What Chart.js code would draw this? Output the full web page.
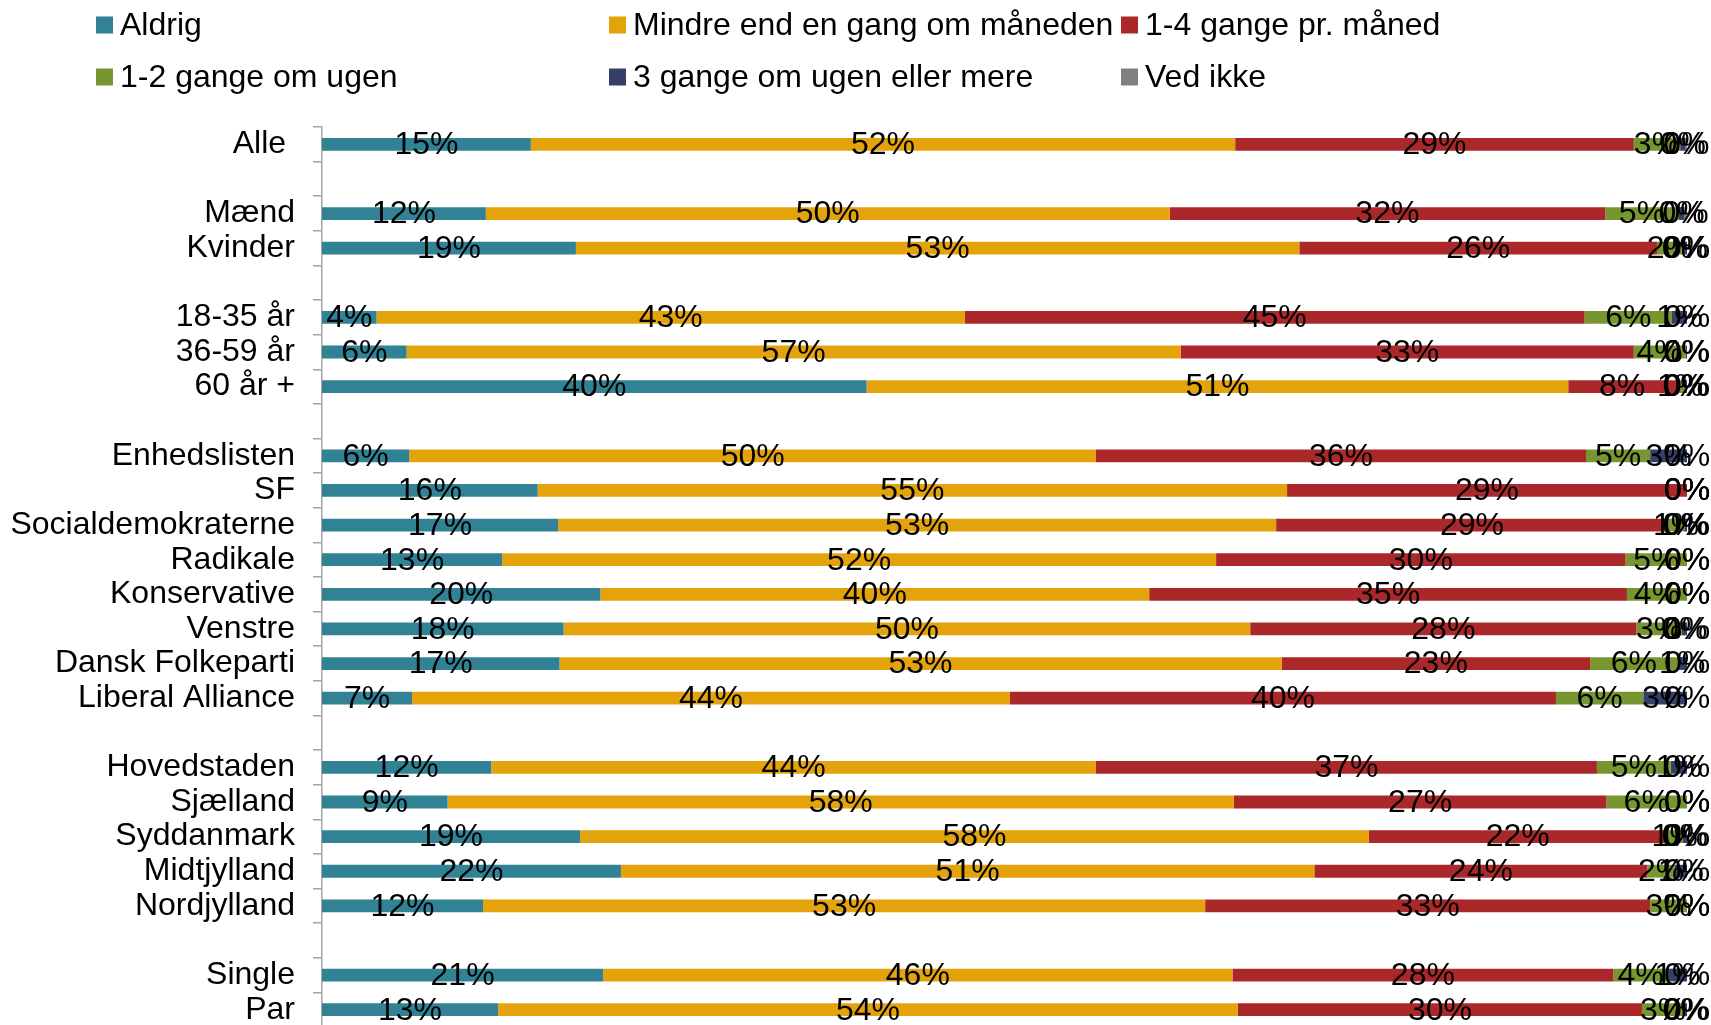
<!DOCTYPE html>
<html><head><meta charset="utf-8">
<script src="https://cdn.jsdelivr.net/npm/chart.js@4.4.1/dist/chart.umd.min.js"></script>
<style>
html,body{margin:0;padding:0;background:#fff;overflow:hidden}
#wrap{position:relative;width:1711px;height:1027px}
</style>
</head><body>
<div id="wrap"><canvas id="c"></canvas></div>
<script>
const categories = ['Alle ', '', 'Mænd', 'Kvinder', '', '18-35 år', '36-59 år', '60 år +', '',
  'Enhedslisten', 'SF', 'Socialdemokraterne', 'Radikale', 'Konservative', 'Venstre', 'Dansk Folkeparti', 'Liberal Alliance', '',
  'Hovedstaden', 'Sjælland', 'Syddanmark', 'Midtjylland', 'Nordjylland', '', 'Single', 'Par'];

const seriesNames = ['Aldrig', 'Mindre end en gang om måneden', '1-4 gange pr. måned',
  '1-2 gange om ugen', '3 gange om ugen eller mere', 'Ved ikke'];

const aldrig  = [15.3, null, 12.0, 18.6, null, 4.0, 6.2, 39.9, null, 6.4, 15.8, 17.3, 13.2, 20.4, 17.7, 17.4, 6.6, null, 12.4, 9.2, 18.9, 21.9, 11.8, null, 20.6, 12.9];
const mindre  = [51.6, null, 50.1, 53.0, null, 43.1, 56.7, 51.4, null, 50.3, 54.9, 52.6, 52.3, 40.2, 50.3, 52.9, 43.8, null, 44.3, 57.6, 57.8, 50.8, 52.9, null, 46.1, 54.2];
const gange14 = [29.2, null, 31.9, 26.2, null, 45.4, 33.2, 7.9, null, 35.9, 29.3, 28.7, 30.0, 35.0, 28.3, 22.6, 40.0, null, 36.7, 27.3, 21.8, 24.4, 32.6, null, 27.9, 29.6];
const gange12 = [3.4, null, 5.4, 1.9, null, 6.4, 3.8, 0.6, null, 4.7, 0, 1.2, 4.5, 4.4, 3.3, 6.4, 6.4, null, 5.4, 5.9, 1.2, 2.0, 2.7, null, 4.0, 3.1];
const gange3  = [0.4, null, 0.4, 0.3, null, 1.1, 0.1, 0.2, null, 2.7, 0, 0.2, 0, 0, 0.4, 0.7, 3.2, null, 1.2, 0, 0.3, 0.9, 0, null, 1.4, 0.2];
const vedIkke = [0.1, null, 0.2, 0, null, 0, 0, 0, null, 0, 0, 0, 0, 0, 0, 0, 0, null, 0, 0, 0, 0, 0, null, 0, 0];

const colors = ['#308294', '#E4A30A', '#AB282A', '#789630', '#344068', '#808080'];
const FONT = '"Liberation Sans", Arial, sans-serif';
const FS = 32;

const allSeries = [aldrig, mindre, gange14, gange12, gange3, vedIkke];
const datasets = allSeries.map((d, i) => ({
  label: seriesNames[i],
  data: d,
  backgroundColor: colors[i],
  borderWidth: 0,
  categoryPercentage: 1.0,
  barPercentage: 0.37
}));

const valueLabels = {
  id: 'valueLabels',
  afterDatasetsDraw(chart) {
    const ctx = chart.ctx;
    ctx.save();
    ctx.font = FS + 'px ' + FONT;
    ctx.fillStyle = '#000';
    ctx.textAlign = 'center';
    ctx.textBaseline = 'middle';
    chart.data.datasets.forEach((ds, di) => {
      const meta = chart.getDatasetMeta(di);
      meta.data.forEach((el, i) => {
        const v = ds.data[i];
        if (v === null || v === undefined) return;
        const p = el.getCenterPoint();
        ctx.fillText(Math.round(v) + '%', p.x, p.y + 1);
      });
    });
    ctx.restore();
  }
};

const legendCols = [96, 609, 1121];
const legendRows = [25, 77];
const customLegend = {
  id: 'customLegend',
  afterDraw(chart) {
    const ctx = chart.ctx;
    ctx.save();
    ctx.font = FS + 'px ' + FONT;
    ctx.textBaseline = 'middle';
    ctx.textAlign = 'left';
    chart.data.datasets.forEach((ds, i) => {
      const x = legendCols[i % 3];
      const y = legendRows[Math.floor(i / 3)];
      ctx.fillStyle = ds.backgroundColor;
      ctx.fillRect(x, y - 8.5, 17, 17);
      ctx.fillStyle = '#000';
      ctx.fillText(ds.label, x + 24, y + 1);
    });
    ctx.restore();
  }
};

new Chart(document.getElementById('c'), {
  type: 'bar',
  data: { labels: categories, datasets },
  plugins: [valueLabels, customLegend],
  options: {
    indexAxis: 'y',
    responsive: true,
    maintainAspectRatio: false,
    devicePixelRatio: 1,
    animation: false,
    layout: { padding: { top: 127, right: 24, bottom: 0, left: 0 } },
    plugins: { legend: { display: false }, tooltip: { enabled: false } },
    scales: {
      x: { stacked: true, min: 0, max: 100, display: false },
      y: {
        stacked: true,
        afterFit(scale) { scale.width = 322; scale.paddingTop = 0; scale.paddingBottom = 0; },
        border: { display: true, color: '#A6A6A6', width: 1.5 },
        grid: { display: true, drawOnChartArea: false, drawTicks: true, tickLength: 9, color: '#A6A6A6', lineWidth: 1.5, offset: true },
        ticks: { autoSkip: false, padding: 18, color: '#000', font: { family: FONT, size: FS } }
      }
    }
  }
});
</script>
</body></html>
